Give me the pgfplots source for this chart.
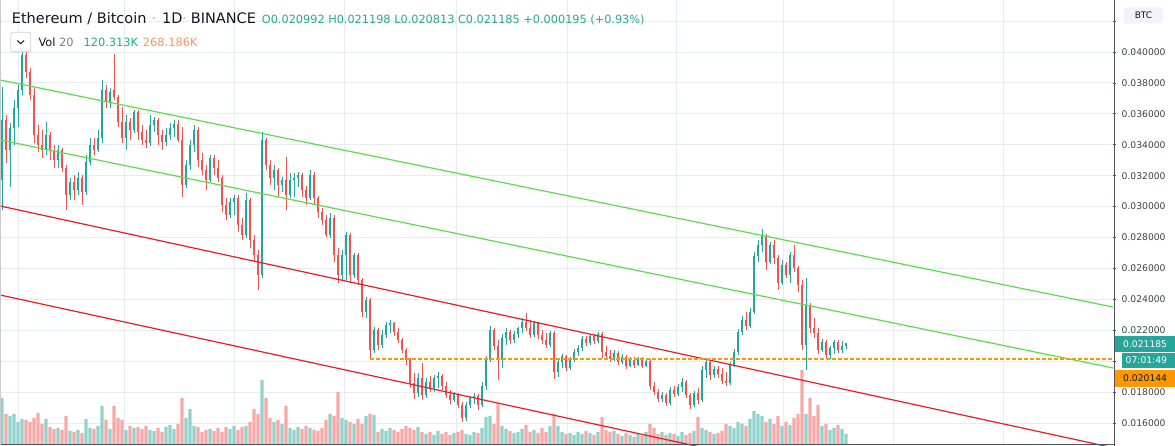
\documentclass[border=0pt]{standalone}
\usepackage{fontspec}
\setmainfont{DejaVu Sans}
\usepackage{pgfplots}
\usepackage{pgfplotstable}
\pgfplotsset{compat=1.18}
\definecolor{upc}{RGB}{38,166,154}
\definecolor{dnc}{RGB}{239,83,80}
\definecolor{vupc}{RGB}{146,210,204}
\definecolor{vdnc}{RGB}{247,169,167}
\definecolor{gridc}{RGB}{230,236,242}
\definecolor{axc}{RGB}{80,83,94}
\definecolor{lblc}{RGB}{60,64,74}
\definecolor{greenl}{RGB}{88,222,72}
\definecolor{redl}{RGB}{232,28,38}
\definecolor{orgl}{RGB}{255,152,0}
\definecolor{titc}{RGB}{19,23,34}
\definecolor{volorg}{RGB}{242,150,100}
\definecolor{btcbg}{RGB}{240,243,250}

\pgfplotstableread{
i o h l c v
0 31.72 37.74 29.78 35.60 552
1 35.60 35.92 32.82 33.66 360
2 33.66 35.41 31.27 35.08 336
3 35.08 36.90 33.98 36.38 360
4 36.38 37.87 35.15 37.54 264
5 37.54 40.65 37.22 39.81 300
6 39.81 40.26 38.32 38.71 288
7 38.71 38.96 36.90 37.22 264
8 37.22 37.67 34.11 34.63 312
9 34.63 35.28 33.53 33.98 372
10 33.98 34.95 33.14 33.66 240
11 33.66 35.47 33.34 34.63 300
12 34.63 34.83 33.01 33.66 204
13 33.66 33.98 32.50 33.01 180
14 33.01 33.98 32.50 33.66 192
15 33.66 33.79 32.24 32.50 168
16 32.50 32.69 29.78 30.75 336
17 30.75 31.85 30.43 31.59 156
18 31.59 32.04 30.43 31.07 144
19 31.07 32.24 30.75 31.85 168
20 31.85 32.04 30.10 30.94 132
21 30.94 33.34 30.75 32.88 300
22 32.88 34.44 32.69 33.98 192
23 33.98 34.44 33.34 33.66 180
24 33.66 34.95 33.53 34.44 216
25 34.44 38.19 34.11 37.54 456
26 37.54 37.87 36.38 36.77 288
27 36.77 37.67 36.38 37.41 180
28 37.54 39.87 36.90 37.09 456
29 37.09 37.22 35.15 35.47 312
30 35.47 36.44 34.11 34.44 288
31 34.44 35.92 33.66 35.47 168
32 35.47 35.73 34.31 34.95 216
33 34.95 36.25 34.76 36.12 192
34 36.12 36.25 34.31 34.83 204
35 34.83 35.28 33.98 34.31 180
36 34.31 34.95 33.79 34.11 216
37 34.11 35.92 33.92 35.28 168
38 35.28 35.80 34.83 35.60 156
39 35.60 35.73 33.98 34.63 192
40 34.63 34.95 33.66 34.18 144
41 34.18 35.08 33.92 34.63 204
42 34.63 35.41 34.31 35.08 228
43 35.08 35.60 34.50 35.34 180
44 35.34 35.60 34.18 34.31 240
45 34.31 35.15 30.62 31.40 552
46 31.40 33.01 31.20 32.69 312
47 32.69 34.31 32.37 33.98 420
48 33.98 35.28 33.53 34.95 216
49 34.95 35.15 32.56 33.01 204
50 33.01 33.47 32.04 32.37 144
51 32.37 32.69 31.07 31.72 168
52 31.72 33.34 31.59 33.14 180
53 33.14 33.34 32.04 32.50 156
54 32.50 33.01 31.59 31.85 192
55 31.85 32.04 29.65 30.10 144
56 30.10 30.56 29.13 29.46 204
57 29.46 30.56 29.26 30.30 180
58 30.30 30.75 29.46 30.56 216
59 30.56 30.75 28.36 28.81 168
60 28.81 29.26 27.84 28.16 204
61 28.16 30.88 27.97 30.43 216
62 30.43 30.56 27.32 27.84 264
63 27.84 28.16 26.42 26.87 420
64 26.87 27.19 24.60 25.57 360
65 25.57 34.83 25.38 34.31 768
66 34.31 34.44 32.37 32.69 552
67 32.69 33.01 31.40 31.85 312
68 31.85 32.69 31.07 32.37 264
69 32.37 32.50 30.62 31.40 288
70 31.40 31.91 30.94 31.72 240
71 31.72 33.21 29.78 30.75 456
72 30.75 32.17 30.56 31.72 192
73 31.72 32.17 30.62 31.85 168
74 31.85 32.24 31.27 32.04 204
75 32.04 32.17 30.62 31.07 180
76 31.07 31.33 30.10 30.56 216
77 30.56 32.37 30.43 32.04 192
78 32.04 32.24 30.10 30.56 168
79 30.56 30.69 29.26 29.65 156
80 29.65 29.91 28.81 29.13 192
81 29.13 29.46 28.03 28.16 288
82 28.16 29.59 27.97 29.26 360
83 29.26 29.46 26.42 26.87 336
84 26.87 27.32 25.06 25.57 624
85 25.57 27.19 25.25 26.87 312
86 26.87 28.36 25.25 28.16 288
87 28.16 28.29 25.06 25.57 264
88 25.57 27.00 25.38 26.87 240
89 26.87 27.00 24.93 25.25 300
90 25.25 25.38 22.86 23.18 240
91 23.18 24.15 22.79 23.96 336
92 23.96 24.09 20.20 20.72 360
93 20.72 22.21 20.53 22.02 348
94 22.02 22.15 20.72 21.05 144
95 21.05 22.02 20.85 21.69 180
96 21.69 22.53 21.50 22.34 156
97 22.34 22.66 21.82 22.47 192
98 22.47 22.53 21.63 21.89 168
99 21.89 22.15 21.18 21.37 144
100 21.37 21.50 20.53 20.72 180
101 20.72 20.85 19.75 20.08 216
102 20.08 20.20 18.26 18.59 192
103 18.59 19.23 17.55 17.94 168
104 17.94 19.23 17.68 18.91 204
105 18.91 19.88 17.49 17.81 144
106 17.81 18.91 17.62 18.65 120
107 18.65 19.04 18.01 18.26 144
108 18.26 19.11 18.01 18.91 108
109 18.91 19.30 18.26 19.04 156
110 19.04 19.17 18.13 18.39 120
111 18.39 18.65 17.62 17.81 144
112 17.81 18.13 17.23 17.49 108
113 17.49 18.01 17.36 17.88 132
114 17.88 17.94 16.97 17.16 144
115 17.16 17.36 16.06 16.32 168
116 16.32 17.36 16.13 17.16 120
117 17.16 17.75 16.97 17.62 108
118 17.62 17.94 17.23 17.75 144
119 17.75 17.88 16.84 17.16 132
120 17.16 18.65 17.03 18.39 192
121 18.39 20.33 18.13 20.08 324
122 20.08 22.28 19.95 22.02 336
123 22.02 22.15 20.72 20.98 240
124 20.98 21.37 18.78 20.08 480
125 20.08 21.76 19.56 21.50 216
126 21.50 22.15 21.05 21.89 180
127 21.89 22.02 21.11 21.37 156
128 21.37 21.95 21.18 21.76 132
129 21.76 22.21 21.50 22.15 144
130 22.15 22.79 21.82 22.53 180
131 22.53 23.12 21.95 22.15 228
132 22.15 22.66 21.50 21.69 144
133 21.69 22.60 21.56 22.47 168
134 22.47 22.53 21.43 21.69 132
135 21.69 22.02 21.11 21.37 192
136 21.37 21.82 20.85 21.05 144
137 21.05 21.95 20.92 21.82 216
138 21.82 21.95 18.85 19.30 360
139 19.30 20.14 18.98 19.95 216
140 19.95 20.46 19.56 20.33 144
141 20.33 20.40 19.36 19.56 120
142 19.56 20.27 19.43 20.08 132
143 20.08 20.79 19.95 20.59 108
144 20.59 21.05 20.33 20.85 144
145 20.85 21.63 20.66 21.43 120
146 21.43 21.63 20.98 21.18 156
147 21.18 21.76 21.05 21.63 132
148 21.63 21.76 21.11 21.30 108
149 21.30 21.89 21.18 21.76 144
150 21.76 21.89 20.20 20.59 324
151 20.59 20.98 20.14 20.33 168
152 20.33 20.72 19.95 20.14 144
153 20.14 20.72 20.01 20.53 156
154 20.53 20.66 19.75 19.95 120
155 19.95 20.46 19.82 20.27 96
156 20.27 20.40 19.49 19.69 132
157 19.69 20.27 19.62 20.08 108
158 20.08 20.27 19.56 19.75 84
159 19.75 20.27 19.69 20.14 120
160 20.14 20.27 19.56 19.69 96
161 19.69 20.20 19.62 20.01 144
162 20.01 20.14 18.13 18.39 240
163 18.39 18.65 17.81 18.01 192
164 18.01 18.20 17.36 17.55 120
165 17.55 18.01 17.36 17.81 144
166 17.81 17.94 17.10 17.29 108
167 17.29 18.33 17.16 18.13 132
168 18.13 18.39 17.68 17.88 120
169 17.88 18.52 17.75 18.33 96
170 18.33 18.91 18.01 18.65 144
171 18.65 18.78 17.62 17.81 108
172 17.81 17.94 16.91 17.16 132
173 17.16 18.07 17.03 17.94 156
174 17.94 18.26 17.23 17.49 324
175 17.49 19.69 17.36 19.43 192
176 19.43 20.14 18.91 19.95 168
177 19.95 20.08 18.78 19.10 144
178 19.10 19.69 18.91 19.49 120
179 19.49 19.69 18.91 19.17 132
180 19.17 19.56 18.52 18.72 156
181 18.72 19.30 18.39 18.59 240
182 18.59 19.95 18.46 19.75 216
183 19.75 20.79 19.62 20.59 192
184 20.59 22.08 20.40 21.89 264
185 21.89 22.92 21.69 22.66 240
186 22.66 23.18 22.02 22.28 216
187 22.28 23.44 22.15 23.18 300
188 23.18 27.06 23.05 26.80 396
189 26.80 27.84 26.42 27.51 360
190 27.51 28.55 27.06 28.10 336
191 28.10 28.23 25.90 26.42 264
192 26.42 27.71 26.29 27.51 300
193 27.51 27.84 26.29 26.67 240
194 26.67 26.87 24.60 25.06 336
195 25.06 26.54 24.93 26.22 216
196 26.22 26.42 25.38 25.57 264
197 25.57 27.06 25.06 26.87 228
198 26.87 27.51 25.77 26.03 312
199 26.03 26.16 24.47 24.93 360
200 24.93 25.25 20.72 21.05 888
201 21.05 25.38 19.43 23.63 360
202 23.63 23.76 21.82 22.15 552
203 22.15 22.79 21.50 21.82 336
204 21.82 22.15 20.46 20.72 468
205 20.72 21.43 20.59 21.24 216
206 21.24 21.37 20.20 20.40 240
207 20.40 20.98 20.14 20.85 168
208 20.85 21.37 20.46 21.24 192
209 21.24 21.37 20.53 20.72 228
210 20.72 21.30 20.53 20.98 180
211 20.992 21.198 20.813 21.185 120.313
}\candles

\pgfplotsset{
  chartgeom/.style={at={(0,0)}, anchor=south west, scale only axis,
    width=1113pt, height=446pt, xmin=-0.5, xmax=277.75},
  upsel/.style={restrict expr to domain={\thisrow{c}-\thisrow{o}}{0:100}},
  dnsel/.style={restrict expr to domain={\thisrow{c}-\thisrow{o}}{-100:-0.00001}},
}

\begin{document}
\begin{tikzpicture}[x=1pt,y=1pt]
\useasboundingbox (0,0) rectangle (1175,446);
\clip (0,0) rectangle (1175,446);

% grid and price scale
\begin{axis}[chartgeom, ymin=14.511, ymax=43.364,
  axis line style={draw=none},
  xtick={4,30.5,58,85.5,113.5,141.25,168.5,195.25,222.75,250.25},
  xticklabels={}, xtick style={draw=none},
  ytick={16,18,...,42},
  yticklabels={0.016000,0.018000,{},0.022000,0.024000,0.026000,0.028000,0.030000,0.032000,0.034000,0.036000,0.038000,0.040000,{}},
  ytick pos=right, yticklabel pos=right, tick align=outside,
  ytick style={draw=axc, line width=0.8pt}, major tick length=3.5pt,
  yticklabel style={font=\fontsize{9.2}{10}\selectfont, text=lblc, anchor=west, inner sep=0pt, xshift=5pt},
  grid=major, major grid style={draw=gridc, line width=0.9pt},
]
\addplot[draw=none, mark=none] coordinates {(0,30)};
\end{axis}

% volume
\begin{axis}[chartgeom, ymin=-24, ymax=5328, hide axis]
\addplot[ybar, bar width=3.1pt, fill=vupc, draw=none, upsel] table[x=i, y=v] {\candles};
\addplot[ybar, bar width=3.1pt, fill=vdnc, draw=none, dnsel] table[x=i, y=v] {\candles};
\end{axis}

% candles and drawings
\begin{axis}[chartgeom, ymin=14.511, ymax=43.364, hide axis]
\addplot[draw=none, mark=none, upsel, error bars/.cd, y dir=both, y explicit, error mark=none,
  error bar style={draw=upc, line width=0.9pt}]
  table[x=i, y expr={(\thisrow{h}+\thisrow{l})/2}, y error expr={(\thisrow{h}-\thisrow{l})/2}] {\candles};
\addplot[draw=none, mark=none, dnsel, error bars/.cd, y dir=both, y explicit, error mark=none,
  error bar style={draw=dnc, line width=0.9pt}]
  table[x=i, y expr={(\thisrow{h}+\thisrow{l})/2}, y error expr={(\thisrow{h}-\thisrow{l})/2}] {\candles};
\addplot[draw=none, mark=none, upsel, error bars/.cd, y dir=both, y explicit, error mark=none,
  error bar style={draw=upc, line width=2.6pt}]
  table[x=i, y expr={(\thisrow{o}+\thisrow{c})/2}, y error expr={abs(\thisrow{c}-\thisrow{o})/2+0.015}] {\candles};
\addplot[draw=none, mark=none, dnsel, error bars/.cd, y dir=both, y explicit, error mark=none,
  error bar style={draw=dnc, line width=2.6pt}]
  table[x=i, y expr={(\thisrow{o}+\thisrow{c})/2}, y error expr={abs(\thisrow{c}-\thisrow{o})/2+0.015}] {\candles};
% channel lines
\addplot[greenl, line width=1.2pt] coordinates {(-0.5,38.19) (277.75,23.50)};
\addplot[greenl, line width=1.2pt] coordinates {(-0.5,34.31) (277.75,19.56)};
\addplot[redl, line width=1.2pt] coordinates {(-0.5,30.04) (277.75,14.40)};
\addplot[redl, line width=1.2pt] coordinates {(-0.5,24.28) (277.75,8.65)};
% support level
\addplot[orgl, line width=2pt, dash pattern=on 4pt off 2pt] coordinates {(92,20.144) (277.75,20.144)};
\end{axis}

% frame lines
\draw[axc, line width=1pt] (1114,0) -- (1114,446);
\draw[axc, line width=1pt] (0,1.5) -- (1114,1.5);
\draw[gridc!70!gray, line width=1.2pt] (0.6,0) -- (0.6,446);

% header
\node[anchor=base west, inner sep=0, font=\fontsize{14.5}{17}\selectfont, text=titc] at (11.7,422.7) {Ethereum / Bitcoin};
\node[anchor=base, inner sep=0, font=\fontsize{14.5}{17}\selectfont, text=gray!60] at (154,422.7) {·};
\node[anchor=base west, inner sep=0, font=\fontsize{14.5}{17}\selectfont, text=titc] at (162,422.7) {1D};
\node[anchor=base, inner sep=0, font=\fontsize{14.5}{17}\selectfont, text=gray!60] at (184.5,422.7) {·};
\node[anchor=base west, inner sep=0, font=\fontsize{14.5}{17}\selectfont, text=titc] at (190.7,422.7) {BINANCE};
\node[anchor=base west, inner sep=0, font=\fontsize{11.3}{13}\selectfont, text=upc] at (261.7,422.7)
  {O0.020992 H0.021198 L0.020813 C0.021185 +0.000195 (+0.93\%)};
\draw[draw=gray!35, fill=white, rounded corners=2pt, line width=0.8pt] (10.7,394.3) rectangle (30.7,413.7);
\draw[titc, line width=1pt] (17.3,405.5) -- (20.7,402.3) -- (24.1,405.5);
\node[anchor=base west, inner sep=0, font=\fontsize{11.4}{13}\selectfont, text=titc] at (38.3,399.3) {Vol \textcolor{gray}{20}};
\node[anchor=base west, inner sep=0, font=\fontsize{11.4}{13}\selectfont, text=upc] at (83.3,399.3) {120.313K};
\node[anchor=base west, inner sep=0, font=\fontsize{11.4}{13}\selectfont, text=volorg] at (142.7,399.3) {268.186K};

% scale labels
\node[fill=btcbg, rounded corners=2pt, minimum width=39pt, minimum height=16pt, inner sep=0,
  font=\fontsize{9}{10}\selectfont, text=titc] at (1143.5,430.5) {BTC};
\fill[upc] (1114.5,94) rectangle (1175,110);
\node[anchor=west, inner sep=0, font=\fontsize{9.2}{10}\selectfont, text=white] at (1123,102) {0.021185};
\fill[upc] (1122,78) rectangle (1175,93);
\node[anchor=west, inner sep=0, font=\fontsize{9.2}{10}\selectfont, text=white] at (1125.5,85.5) {07:01:49};
\fill[orgl] (1114.5,59) rectangle (1175,76);
\node[anchor=west, inner sep=0, font=\fontsize{9.2}{10}\selectfont, text=titc] at (1123,67.5) {0.020144};
\end{tikzpicture}
\end{document}
